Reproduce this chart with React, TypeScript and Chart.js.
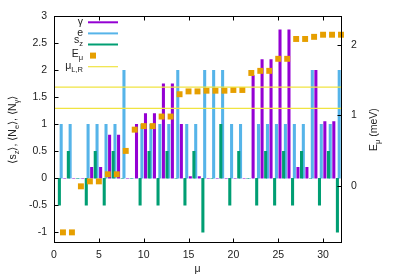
import React, { useEffect, useRef } from "react";
import { Chart, registerables } from "chart.js";
Chart.register(...registerables);

// ---- data ----
const muIndex = [1, 2, 3, 4, 5, 6, 7, 8, 9, 10, 11, 12, 13, 14, 15, 16, 17, 18, 19, 20, 21, 22, 23, 24, 25, 26, 27, 28, 29, 30, 31, 32];
const gammaVals = [0, 0, 0, 0.2, 0.2, 0.8, 0.8, 0, 1.0, 1.2, 1.2, 1.75, 1.75, 1.0, 0.03, 0.03, 0, 0, 0, 0, 0, 1.9, 2.2, 2.2, 2.75, 2.75, 0.2, 0.2, 2.0, 1.05, 1.05, null];
const eVals = [1, 1, 0, 1, 1, 1, 1, 2, 0, 1, 1, 1, 1, 2, 1, 1, 2, 2, 2, 1, 1, 0, 1, 1, 1, 1, 1, 1, 2, 1, 1, 2];
const szVals = [-0.5, 0.5, 0, -0.5, 0.5, -0.5, 0.5, 0, 0, -0.5, 0.5, -0.5, 0.5, 0, -0.5, 0.5, -1, 0, 1, -0.5, 0.5, 0, -0.5, 0.5, -0.5, 0.5, -0.5, 0.5, 0, -0.5, 0.5, -1];
const energyVals = [-0.65, -0.65, 0.0, 0.07, 0.07, 0.17, 0.17, 0.5, 0.8, 0.85, 0.85, 0.985, 0.985, 1.3, 1.34, 1.34, 1.35, 1.35, 1.35, 1.36, 1.36, 1.6, 1.63, 1.63, 1.8, 1.8, 2.08, 2.08, 2.11, 2.14, 2.14, 2.14];
const muLR = [1.4, 1.1];
const xRange = [0, 32];
const yRange = [-1.2, 3];
const y2Range = [-0.8, 2.4];

type Part = [string, boolean];
const legendLabels: Part[][] = [
  [["γ", false]],
  [["e", false]],
  [["s", false], ["z", true]],
  [["E", false], ["μ", true]],
  [["μ", false], ["L,R", true]],
];
const yTitle: Part[] = [["⟨s", false], ["z", true], ["⟩, ⟨N", false], ["e", true], ["⟩, ⟨N", false], ["γ", true], ["⟩", false]];
const y2Title: Part[] = [["E", false], ["μ", true], [" (meV)", false]];
const xTitle: Part[] = [["μ", false]];

// ---- style ----
const COL = { gamma: "#9400d3", e: "#56b4e9", sz: "#009e73", E: "#e69f00", mu: "#f0e442" };
const FONT = "'Liberation Sans', Arial, sans-serif";
const FS = 10.5;
const TXT = "#222";

function partsWidth(ctx: CanvasRenderingContext2D, parts: Part[], size: number) {
  let w = 0;
  for (const [t, sub] of parts) {
    ctx.font = `${sub ? size * 0.72 : size}px ${FONT}`;
    w += ctx.measureText(t).width;
  }
  return w;
}
function drawRich(ctx: CanvasRenderingContext2D, parts: Part[], x: number, y: number, align: string, size: number) {
  const w = partsWidth(ctx, parts, size);
  let cx = align === "center" ? x - w / 2 : align === "right" ? x - w : x;
  ctx.textAlign = "left";
  ctx.textBaseline = "alphabetic";
  for (const [t, sub] of parts) {
    ctx.font = `${sub ? size * 0.72 : size}px ${FONT}`;
    ctx.fillText(t, cx, sub ? y + size * 0.3 : y);
    cx += ctx.measureText(t).width;
  }
}

const framePlugin = {
  id: "frame",
  afterDatasetsDraw(chart: any) {
    const { ctx, chartArea: a, scales } = chart;
    ctx.save();
    ctx.strokeStyle = "#000";
    ctx.lineWidth = 1;
    const L = Math.round(a.left) + 0.5, R = Math.round(a.right) + 0.5, T = Math.round(a.top) + 0.5, B = Math.round(a.bottom) - 0.5;
    ctx.strokeRect(L, T, R - L, B - T);
    const tl = 4;
    ctx.beginPath();
    for (const t of scales.x.ticks) {
      const px = Math.round(scales.x.getPixelForValue(t.value)) + 0.5;
      ctx.moveTo(px, B); ctx.lineTo(px, B - tl);
      ctx.moveTo(px, T); ctx.lineTo(px, T + tl);
    }
    for (const t of scales.y.ticks) {
      const py = Math.round(scales.y.getPixelForValue(t.value)) + 0.5;
      ctx.moveTo(L, py); ctx.lineTo(L + tl, py);
    }
    for (const t of scales.y2.ticks) {
      const py = Math.round(scales.y2.getPixelForValue(t.value)) + 0.5;
      ctx.moveTo(R, py); ctx.lineTo(R - tl, py);
    }
    ctx.stroke();
    ctx.restore();
  },
  afterDraw(chart: any) {
    const { ctx, chartArea: a } = chart;
    ctx.save();
    ctx.fillStyle = TXT;
    // axis titles
    drawRich(ctx, xTitle, (a.left + a.right) / 2, 272, "center", FS);
    ctx.save();
    ctx.translate(12, (a.top + a.bottom) / 2);
    ctx.rotate(-Math.PI / 2);
    drawRich(ctx, yTitle, 0, 4, "center", FS);
    ctx.restore();
    ctx.save();
    ctx.translate(373, (a.top + a.bottom) / 2);
    ctx.rotate(-Math.PI / 2);
    drawRich(ctx, y2Title, 0, 4, "center", FS);
    ctx.restore();
    // legend
    const rowY0 = 22.3, step = 11.1;
    const textRight = 83, sx0 = 88, sx1 = 118;
    const cols = [COL.gamma, COL.e, COL.sz, COL.E, COL.mu];
    const baseOff = [2.2, 2.5, -1.5, 1.7, 2.5];
    legendLabels.forEach((lab, i) => {
      const ry = rowY0 + i * step;
      ctx.fillStyle = TXT;
      drawRich(ctx, lab, textRight, ry + baseOff[i], "right", FS);
      if (i === 3) {
        ctx.fillStyle = cols[i];
        ctx.fillRect(90, ry - 3, 6, 6);
      } else {
        ctx.strokeStyle = cols[i];
        ctx.lineWidth = i === 4 ? 1.2 : 2;
        ctx.beginPath();
        ctx.moveTo(sx0, ry);
        ctx.lineTo(sx1, ry);
        ctx.stroke();
      }
    });
    ctx.restore();
  },
};

export default function App() {
  const ref = useRef<HTMLCanvasElement | null>(null);
  useEffect(() => {
    if (!ref.current) return;
    const tickFont = { family: FONT, size: FS };
    const barDs = (label: string, vals: (number | null)[], off: number, color: string, order: number) => ({
      type: "bar" as const,
      label,
      data: muIndex.map((m, i) => ({ x: m + off, y: vals[i] })),
      backgroundColor: color,
      borderWidth: 0,
      barThickness: 2.4,
      grouped: false,
      yAxisID: "y",
      order,
    });
    const chart = new Chart(ref.current, {
      type: "bar",
      data: {
        datasets: [
          ...muLR.map((v) => ({
            type: "line" as const,
            label: "μL,R",
            data: [{ x: xRange[0], y: v }, { x: xRange[1], y: v }],
            yAxisID: "y2",
            borderColor: COL.mu,
            borderWidth: 1.2,
            pointRadius: 0,
            order: 0,
          })),
          {
            type: "line" as const,
            label: "Eμ",
            data: muIndex.map((m, i) => ({ x: m, y: energyVals[i] })),
            yAxisID: "y2",
            showLine: false,
            pointStyle: "rect",
            pointRadius: 4.2,
            pointBackgroundColor: COL.E,
            pointBorderWidth: 0,
            backgroundColor: COL.E,
            borderColor: COL.E,
            clip: false,
            order: 1,
          },
          barDs("sz", szVals, -0.4, COL.sz, 2),
          barDs("e", eVals, -0.2, COL.e, 3),
          barDs("γ", gammaVals, 0.2, COL.gamma, 4),
        ] as any,
      },
      options: {
        animation: false,
        responsive: false,
        layout: { padding: { top: 13, left: 0, right: 0, bottom: 0 } },
        plugins: { legend: { display: false }, tooltip: { enabled: false } },
        scales: {
          x: {
            type: "linear",
            min: xRange[0],
            max: xRange[1],
            offset: false,
            grid: { display: false, drawTicks: false },
            border: { display: false },
            ticks: { stepSize: 5, includeBounds: false, padding: 6, font: tickFont, color: TXT, maxRotation: 0 },
            afterFit(s: any) { s.height = 36; },
          },
          y: {
            type: "linear",
            position: "left",
            min: yRange[0],
            max: yRange[1],
            grid: { display: false, drawTicks: false },
            border: { display: false },
            ticks: { stepSize: 0.5, includeBounds: false, padding: 7, font: tickFont, color: TXT, callback: (v: any) => String(v) },
            afterFit(s: any) { s.width = 54; },
          },
          y2: {
            type: "linear",
            position: "right",
            min: y2Range[0],
            max: y2Range[1],
            grid: { display: false, drawTicks: false },
            border: { display: false },
            ticks: { stepSize: 1, includeBounds: false, padding: 10, font: tickFont, color: TXT, callback: (v: any) => String(v) },
            afterFit(s: any) { s.width = 58; },
          },
        },
      } as any,
      plugins: [framePlugin],
    });
    return () => chart.destroy();
  }, []);
  return (
    <div style={{ position: "fixed", left: 0, top: 0, width: 399, height: 279, background: "#fff" }}>
      <canvas ref={ref} width={399} height={279} style={{ display: "block", width: 399, height: 279 }} />
    </div>
  );
}
